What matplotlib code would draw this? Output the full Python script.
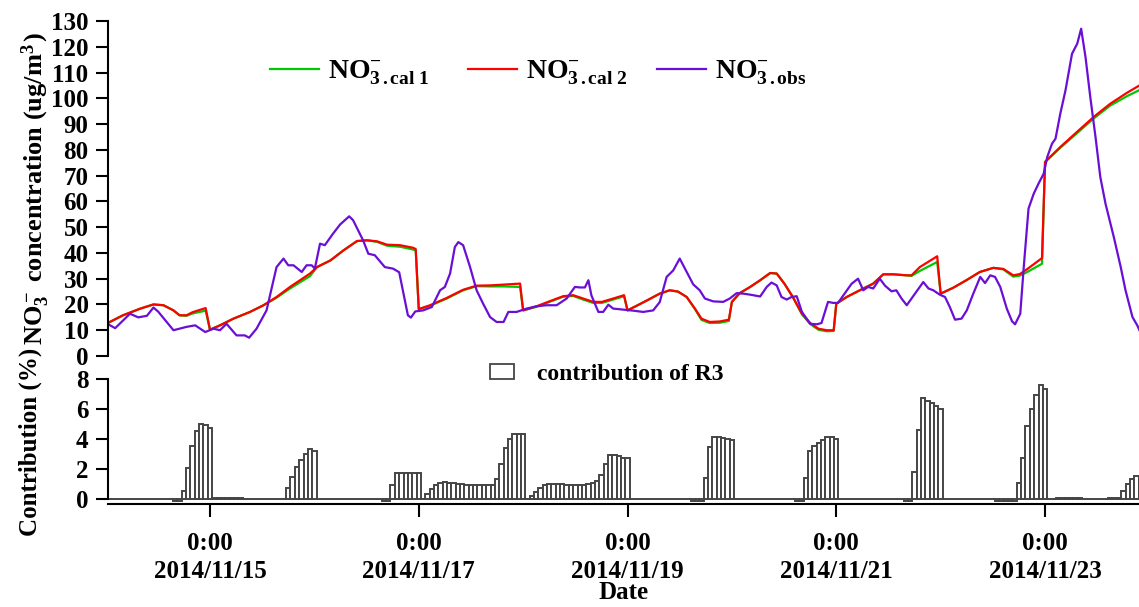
import matplotlib
matplotlib.use('Agg')
import matplotlib.pyplot as plt
from matplotlib.lines import Line2D
from matplotlib.patches import Patch
import numpy as np

plt.rcParams['font.family'] = ['Liberation Serif', 'DejaVu Serif']
plt.rcParams['font.weight'] = 'bold'
plt.rcParams['mathtext.fontset'] = 'custom'
plt.rcParams['mathtext.rm'] = 'Liberation Serif:bold'
plt.rcParams['mathtext.it'] = 'Liberation Serif:bold:italic'
plt.rcParams['mathtext.bf'] = 'Liberation Serif:bold'

# ---------------- data (x = hours since 2014/11/14 0:00) ----------------
tick_hours = [24, 72, 120, 168, 216]
tick_labels = ["0:00\n2014/11/15", "0:00\n2014/11/17", "0:00\n2014/11/19",
               "0:00\n2014/11/21", "0:00\n2014/11/23"]
x_range = (0.55, 237.6)

cal2_t = [0.5, 4, 8, 11, 13.3, 15.6, 17, 18.6, 20, 23, 24, 26.3, 29.4, 33.2, 36.3,
          39.3, 42.4, 44.7, 47, 48.6, 51.7, 54.7, 57.8, 60.1, 62.4, 64.7, 67.7, 70.7,
          71.3, 72, 74.6, 78.4, 82.2, 85.3, 88.4, 91.5, 95.3, 96, 99.1, 102.2, 105.2,
          107.5, 109.8, 112.1, 114.1, 116.7, 119.2, 120, 122.1, 124.4, 127.4, 129.7,
          131.6, 133.6, 135.5, 137, 138.9, 141.2, 143.3, 144, 145.8, 148.2, 150.5,
          152.8, 154.3, 156.1, 158, 160.1, 162, 163.9, 165.8, 167.4, 168, 170.4, 173.4,
          176.5, 178.8, 181.1, 184.2, 185.3, 187.2, 191.2, 192, 194.9, 197.9, 201,
          204.1, 206.4, 208.7, 210.2, 211.8, 215.3, 216, 219.5, 223.3, 227.2, 231,
          234.8, 237.7]
cal2_v = [12.8, 15.8, 18.4, 20, 19.7, 17.7, 15.8, 15.8, 17, 18.6, 10.2, 11.9, 14.5, 17.1,
          19.7, 22.9, 26.8, 29.4, 32, 34.5, 37.1, 41, 44.6, 44.9, 44.5, 43.2, 43, 42,
          41.5, 18.2, 19.7, 22.5, 25.7, 27.3, 27.4, 27.7, 28.1, 17.7, 19.3, 21.3, 23.2,
          23.6, 22.3, 21, 21, 22.3, 23.6, 17.7, 19.5, 21.5, 24.2, 25.5,
          25, 22.9, 18.4, 14.5, 13.2, 13.4, 14.1, 21, 24.4, 26.8, 29.4,
          32.2, 32, 28, 22.9, 16.4, 12.8, 10.6, 10, 10, 20.3, 22.9, 25.5,
          28.1, 31.7, 31.7, 31.3, 31.3, 34.5, 38.7, 24.2, 26.5, 29.4, 32.6,
          34.2, 33.8, 31.3, 31.8, 33.6, 38, 75.3, 81.1, 86.9, 92.8, 97.9,
          102.1, 105]
cal1_t = cal2_t
cal1_v = [12.8, 15.8, 18.4, 20, 19.7, 17.7, 15.8, 15.6, 16.5, 17.6, 10.2, 11.9, 14.5, 17.1,
          19.7, 22.6, 26.2, 28.6, 31, 34.5, 37.1, 41, 44.6, 44.9, 44.3, 42.8, 42.4, 41.3,
          41, 18.2, 19.5, 22.3, 25.5, 27.1, 27.0, 27.0, 26.8, 17.7, 19.1, 21.1, 23.0,
          23.3, 21.9, 20.6, 20.6, 21.9, 23.2, 17.7, 19.5, 21.5, 24.2, 25.5,
          25, 22.9, 18.2, 14.0, 12.8, 12.9, 13.6, 21, 24.4, 26.8, 29.4,
          32.2, 32, 28, 22.9, 16.2, 12.4, 10.2, 9.6, 9.7, 20.3, 22.9, 25.5,
          28.1, 31.7, 31.7, 31.3, 31.1, 33.0, 36.5, 24.2, 26.5, 29.4, 32.6,
          34.2, 33.6, 30.8, 31.2, 32.5, 35.8, 75.3, 80.8, 86.4, 92.2, 97.2,
          100.8, 103.2]

obs_t = [0.4, 2.2, 5.6, 7.5, 9.5, 11, 12.1, 15.6, 18.6, 20.6, 22.9, 24.8, 26.3, 27.8,
         30.1, 32, 33, 34.7, 37, 39.3, 40.9, 42, 43.2, 45.1, 46.2, 47.4, 48.1, 49.3,
         50.4, 52.3, 53.9, 56, 56.9, 59.2, 60.4, 61.9, 64.2, 66.1, 67.5, 69.5, 70.2,
         71.2, 73, 75, 76.9, 78, 79.2, 80.3, 81.1, 82.2, 83.8, 85.3, 86.8, 88.4, 89.9,
         91.5, 92.6, 94.5, 96.8, 99.1, 101.4, 103.7, 106, 107.9, 109.1, 110.2, 111,
         111.7, 113.3, 114.4, 115.6, 116.7, 119, 121.3, 123.6, 125.9, 127.4, 129,
         130.5, 132, 133.6, 135.1, 136.6, 137.8, 139.7, 142, 143.5, 145.1, 146.6,
         148.2, 150.5, 152, 153.1, 154.3, 155.4, 156.6, 157.7, 158.9, 160.1, 162,
         163.5, 164.6, 166.1, 167.3, 168.4, 169.9, 171.5, 173, 174.2, 175.3, 176.5,
         178, 179.2, 180.7, 181.8, 183, 184.2, 185.3, 186.5, 188, 189.2, 190.3, 191.8,
         193, 194.1, 195.3, 196.8, 198, 199.5, 201.1, 202.2, 203.4, 204.5, 205.7,
         207.2, 208.4, 209.1, 210.3, 211.1, 212.2, 213.4, 214.5, 215.7, 216.5, 217.6,
         218.4, 219.5, 220.7, 222.2, 223.4, 224.3, 225.3, 226.4, 227.6, 228.7, 229.9,
         231.8, 233.4, 234.5, 236.1, 237.2, 237.7]
obs_v = [12.5, 10.8, 16.4, 15, 15.6, 18.8, 17.2, 10, 11.3, 11.9, 9.3, 10.6, 10, 12.5,
         8, 8, 7.1, 10.6, 17.7, 34.5, 37.8, 35.2, 35.2, 32.6, 35.2, 35.2, 33.9, 43.6,
         43, 47.5, 51, 54.2, 52.7, 44.9, 39.7, 39.1, 34.5, 33.9, 32.5, 15.8, 14.9,
         17.3, 17.7, 19, 25.5, 26.8, 32, 42.3, 44.2, 43, 34.5, 25.5, 20.3, 15.1, 13.2,
         13.2, 17.1, 17.1, 18.4, 19.3, 19.7, 19.7, 22.3, 26.8, 26.6, 26.6, 29.4,
         23.5, 17.1, 17.1, 19.9, 18.4, 18, 17.6, 17.1, 17.7, 20.9, 30.7,
         33.2, 37.8, 32.6, 27.8, 25.5, 22.3, 21.2, 21, 22.3, 24.4, 24.2,
         23.8, 23.1, 26.8, 28.5, 27.4, 22.9, 21.9, 22.9, 23.2, 17.1, 12.5,
         12.3, 12.8, 21, 20.6, 20.6, 24.2, 28, 30, 25.5, 26.8, 26.2,
         30, 27.3, 25.1, 25.5, 22.3, 19.7, 22.3, 25.1, 28.7, 26.2, 25.5, 23.8,
         22.9, 19, 14.1, 14.5, 17.7, 24.2, 30.7, 28.3, 31.3, 30.7, 26.8,
         18.4, 13.5, 12.3, 16.4, 34.5, 57.2, 63, 66.9, 70.8, 77.2, 82.4,
         84.3, 94, 103.1, 117.3, 121.2, 127, 116, 100.5, 85, 69.5, 59.1,
         46.2, 34.5, 25.5, 15.1, 11.9, 10]

# hourly contribution of R3 (%): (first hour, values); all other hours are 0
r3_hours = np.arange(1, 239)
r3_seg_starts = [16, 42, 64, 135, 159, 184, 205, 231]
r3_seg_values = [
    [-0.12, -0.12, 0.55, 2.05, 3.5, 4.5, 5.0, 4.9, 4.7, 0.05, 0.05, 0.05, 0.05, 0.05, 0.05, 0.05],
    [0.7, 1.45, 2.1, 2.6, 3.0, 3.3, 3.2],
    [-0.12, -0.12, 0.9, 1.7, 1.7, 1.7, 1.7, 1.75, 1.75, 0.0,
     0.3, 0.65, 0.9, 1.05, 1.1, 1.08, 1.05, 1.0, 0.97, 0.93, 0.9, 0.9, 0.9, 0.9, 0.9, 0.9,
     1.35, 2.35, 3.4, 4.0, 4.3, 4.35, 4.3, 0.0,
     0.2, 0.45, 0.75, 0.92, 1.0, 1.0, 0.98, 0.97, 0.96, 0.96, 0.96, 0.96, 0.96, 0.98,
     1.05, 1.2, 1.6, 2.3, 2.95, 2.9, 2.85, 2.75, 2.7],
    [-0.12, -0.12, -0.12, 1.4, 3.45, 4.1, 4.1, 4.05, 4.0, 3.9],
    [-0.12, -0.12, 1.4, 3.2, 3.5, 3.75, 3.95, 4.1, 4.1, 4.0],
    [-0.12, -0.12, 1.8, 4.6, 6.7, 6.55, 6.4, 6.2, 6.0],
    [-0.12, -0.12, -0.12, -0.12, -0.12, 1.05, 2.7, 4.85, 6.0, 6.95, 7.6, 7.3,
     0.0, 0.0, 0.05, 0.05, 0.05, 0.05, 0.05, 0.05],
    [0.05, 0.05, 0.05, 0.5, 1.0, 1.3, 1.5, 1.55],
]
r3_values = np.zeros(len(r3_hours))
for s, seg in zip(r3_seg_starts, r3_seg_values):
    r3_values[s - 1:s - 1 + len(seg)] = seg

# ---------------- figure ----------------
W, H = 1139, 607
fig = plt.figure(figsize=(W / 100, H / 100), dpi=100)
ax1 = fig.add_axes([108 / W, 1 - 356 / H, 1031 / W, 335 / H])
ax2 = fig.add_axes([108 / W, 1 - 504 / H, 1031 / W, 125 / H], sharex=ax1)

c_green, c_red, c_purple = '#00C800', '#FF0000', '#6A0FD6'
ax1.plot(cal1_t, cal1_v, color=c_green, lw=1.6)
ax1.plot(cal2_t, cal2_v, color=c_red, lw=1.6)
ax1.plot(obs_t, obs_v, color=c_purple, lw=1.6)
ax1.set_xlim(*x_range)
ax1.set_ylim(0, 130)
ax1.set_yticks(np.arange(0, 131, 10))
for s in ['top', 'right', 'bottom']:
    ax1.spines[s].set_visible(False)
ax1.spines['left'].set_linewidth(1.5)
ax1.tick_params(axis='x', which='both', bottom=False, labelbottom=False)
ax1.tick_params(axis='y', direction='out', length=9, width=1.5, labelsize=18, pad=5)
ax1.set_ylabel(r'$\mathrm{NO_3^-}$ concentration $\mathrm{(ug/m^{3\,})}$', fontsize=19,
               fontweight='bold')
ax1.yaxis.set_label_coords(-0.054, 0.5)

ax2.bar(r3_hours, r3_values, width=1.0, facecolor='white', edgecolor='#454545',
        linewidth=1.4)
ax2.set_ylim(-0.34, 8)
ax2.set_yticks([0, 2, 4, 6, 8])
for s in ['top', 'right']:
    ax2.spines[s].set_visible(False)
ax2.spines['left'].set_bounds(0, 8)
ax2.spines['left'].set_linewidth(1.5)
ax2.spines['bottom'].set_linewidth(1.5)
ax2.set_xticks(tick_hours)
ax2.set_xticklabels(tick_labels, linespacing=1.3)
ax2.tick_params(axis='both', direction='out', length=9, width=1.5, labelsize=18, pad=5)
ax2.tick_params(axis='x', pad=11)
ax2.set_xlim(*x_range)
ax2.set_xlabel('Date', fontsize=18, fontweight='bold', labelpad=-1.5)
ax2.set_ylabel('Contribution (%)', fontsize=18, fontweight='bold')
ax2.yaxis.set_label_coords(-0.064, 0.5)

# legends
labels = [r'$\mathrm{NO_{3\,.cal\ 1}^{-}}$', r'$\mathrm{NO_{3\,.cal\ 2}^{-}}$',
          r'$\mathrm{NO_{3\,.obs}^{-}}$']
colors = [c_green, c_red, c_purple]
xpos = [270, 468, 657]
for lab, col, xp in zip(labels, colors, xpos):
    lg = fig.legend([Line2D([], [], color=col, lw=1.6)], [lab], loc='center left',
                    bbox_to_anchor=(xp / W, 1 - 73 / H), frameon=False, fontsize=20,
                    handlelength=1.75, handletextpad=0.35, borderpad=0, borderaxespad=0)
fig.legend([Patch(facecolor='white', edgecolor='#454545', lw=1.3)],
           ['contribution of R3'], loc='center left', bbox_to_anchor=(490 / W, 1 - 374 / H),
           frameon=False, fontsize=17, handlelength=1.0, handleheight=0.6,
           handletextpad=1.0, borderpad=0, borderaxespad=0)

fig.savefig('out.png', dpi=100)
